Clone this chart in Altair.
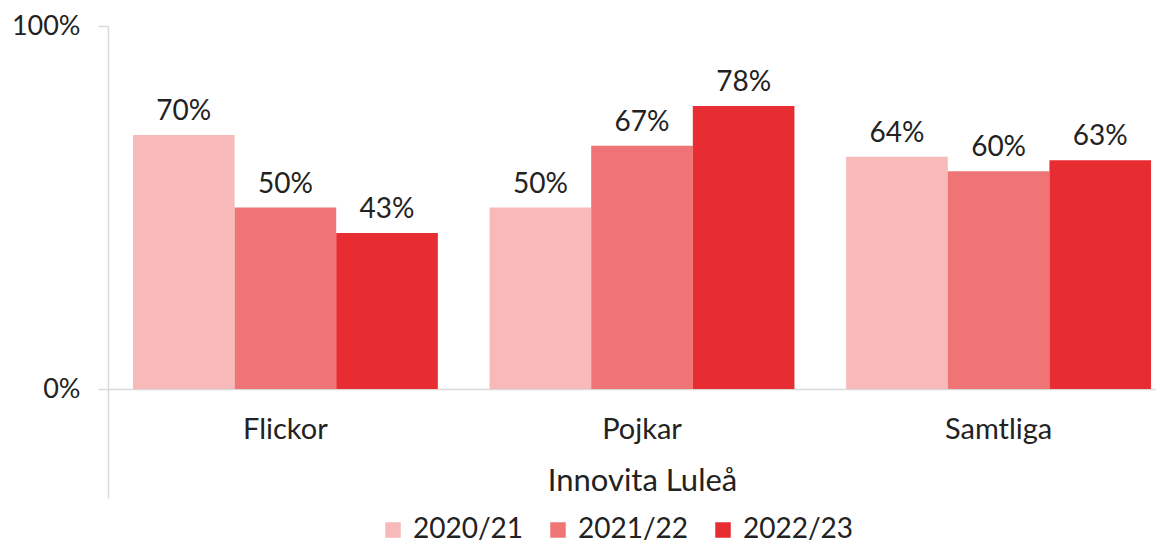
import altair as alt
import pandas as pd

categories = ["Flickor", "Pojkar", "Samtliga"]
years = ["2020/21", "2021/22", "2022/23"]
values = {
    "2020/21": [0.70, 0.50, 0.64],
    "2021/22": [0.50, 0.67, 0.60],
    "2022/23": [0.43, 0.78, 0.63],
}
colors = ["#F8B9BA", "#EF7476", "#E72D32"]
y_ticks = [0, 1]
x_title = "Innovita Luleå"

rows = []
for y in years:
    for c, v in zip(categories, values[y]):
        rows.append({"grupp": c, "år": y, "andel": v})
df = pd.DataFrame(rows)

FONT = "Lato"
TXT = "#222222"

x_enc = alt.X(
    "grupp:N",
    sort=categories,
    scale=alt.Scale(range=[0, 1068], paddingInner=0.145, paddingOuter=0.07),
    axis=alt.Axis(
        title=x_title,
        labelAngle=0,
        labelFontSize=29,
        labelFont=FONT,
        labelColor=TXT,
        labelPadding=26,
        ticks=False,
        domainColor="#d9d9d9",
        domainWidth=1.5,
        titleFontSize=31,
        titleFont=FONT,
        titleFontWeight="normal",
        titleColor=TXT,
        titlePadding=22,
        offset=-109,
    ),
)
y_enc = alt.Y(
    "andel:Q",
    scale=alt.Scale(domain=[-0.3, 1.0], nice=False),
    axis=alt.Axis(
        title=None,
        values=y_ticks,
        format=".0%",
        grid=False,
        labelFontSize=27,
        labelFont=FONT,
        labelColor=TXT,
        labelPadding=18,
        tickSize=10,
        tickColor="#d9d9d9",
        tickWidth=1.5,
        domainColor="#d9d9d9",
        domainWidth=1.5,
    ),
)
xo = alt.XOffset("år:N", sort=years)

bars = alt.Chart(df).mark_bar(clip=False).encode(
    x=x_enc,
    xOffset=xo,
    y=y_enc,
    color=alt.Color(
        "år:N",
        sort=years,
        scale=alt.Scale(domain=years, range=colors),
        legend=alt.Legend(
            title=None,
            orient="none",
            legendX=271,
            legendY=490,
            direction="horizontal",
            labelFontSize=28,
            labelFont=FONT,
            labelColor=TXT,
            symbolType="square",
            symbolSize=240,
            symbolStrokeWidth=0,
            symbolOpacity=1,
            labelOffset=6,
            columnPadding=20,
        ),
    ),
)

labels = alt.Chart(df).mark_text(
    baseline="alphabetic", dy=-15, fontSize=28, font=FONT, color=TXT
).encode(
    x=alt.X("grupp:N", sort=categories),
    xOffset=xo,
    y="andel:Q",
    text=alt.Text("andel:Q", format=".0%"),
)

chart = (
    alt.layer(bars, labels)
    .properties(
        width=1048,
        height=472,
        padding={"left": 100, "top": 18, "right": 0, "bottom": 45},
        autosize=alt.AutoSizeParams(type="none"),
        background="white",
    )
    .configure_view(strokeWidth=0)
)

chart.save("out.html", embed_options={"renderer": "svg", "actions": False})
